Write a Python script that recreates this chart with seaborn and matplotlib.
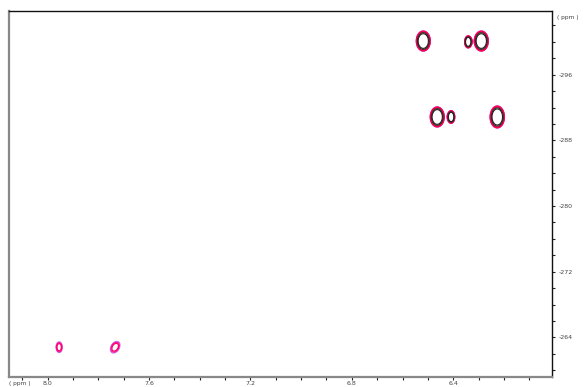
import numpy as np
import matplotlib
matplotlib.use("Agg")
import matplotlib.pyplot as plt
import seaborn as sns

sns.set_theme(style="white")
plt.rcParams['font.family'] = ['DejaVu Sans']

# Peak table (F2 ppm, F1 ppm, relative amplitude, widths, tilt)
peak_f2 = [6.518, 6.341, 6.289, 6.463, 6.408, 6.226, 7.955, 7.734]
peak_f1 = [-300.1, -300.0, -300.1, -290.85, -290.85, -290.85, -262.8, -262.8]
peak_amp = [4.0, 4.0, 4.0, 4.0, 4.0, 4.0, 1.3, 1.3]
peak_sx = [0.0170, 0.0085, 0.0170, 0.0170, 0.0088, 0.0174, 0.0180, 0.0270]
peak_sy = [0.75, 0.45, 0.75, 0.75, 0.47, 0.82, 0.925, 1.00]
peak_rho = [0.0, 0.0, 0.0, 0.0, 0.0, 0.0, 0.0, 0.35]

x_major = [8.0, 7.6, 7.2, 6.8, 6.4]
x_labels = ["8.0", "7.6", "7.2", "6.8", "6.4"]
y_major = [-296, -288, -280, -272, -264]
y_labels = ["-296", "-288", "-280", "-272", "-264"]

levels = [1.0, 1.08, 1.16, 1.35, 1.6, 1.97]
level_colors = ['#b070ff', '#ff10a0', '#ff0060', '#ff0030', '#303030', '#222222']
level_widths = [0.6, 0.9, 0.9, 0.9, 0.8, 0.8]

xlim = (8.153, 6.01)
ylim = (-259.17, -303.76)

fig = plt.figure(figsize=(5.84, 3.87), dpi=100)
ax = fig.add_axes([9/584, 10/387, 543/584, 366/387])

xs = np.linspace(6.0, 8.16, 2600)
ys = np.linspace(-304, -259, 1100)
X, Y = np.meshgrid(xs, ys)
Z = np.zeros_like(X)
for x0, y0, a, sx, sy, r in zip(peak_f2, peak_f1, peak_amp, peak_sx, peak_sy, peak_rho):
    u = (X - x0) / sx
    v = (Y - y0) / sy
    q = (u * u - 2 * r * u * v + v * v) / (1 - r * r)
    Z += a * np.exp(-0.5 * q)

ax.contour(X, Y, Z, levels=levels, colors=level_colors, linewidths=level_widths)

ax.set_xlim(*xlim)
ax.set_ylim(*ylim)

ax.set_xticks(x_major)
ax.set_xticklabels(x_labels)
ax.set_xticks(np.arange(6.1, 8.15, 0.1), minor=True)
ax.yaxis.tick_right()
ax.set_yticks(y_major)
ax.set_yticklabels(y_labels)
ax.set_yticks(np.arange(-302, -259, 2), minor=True)

ax.tick_params(axis='both', which='both', direction='out', length=2.0, width=0.8,
               color='#222222', labelsize=4.5, labelcolor='#444444', pad=2)
ax.tick_params(axis='y', which='both', left=False, right=True, pad=3)
ax.tick_params(axis='x', which='both', bottom=True, top=False, pad=0.8)

for side in ['left', 'bottom']:
    ax.spines[side].set_color('#888888')
    ax.spines[side].set_linewidth(1.6)
for side in ['top', 'right']:
    ax.spines[side].set_color('#111111')
    ax.spines[side].set_linewidth(1.0)

fig.text(20/584, 1 - 383/387, "( ppm )", fontsize=4.2, color='#444444', ha='center', va='center')
fig.text(568/584, 1 - 17/387, "( ppm )", fontsize=4.2, color='#444444', ha='center', va='center')

fig.savefig("out.png", dpi=100)
